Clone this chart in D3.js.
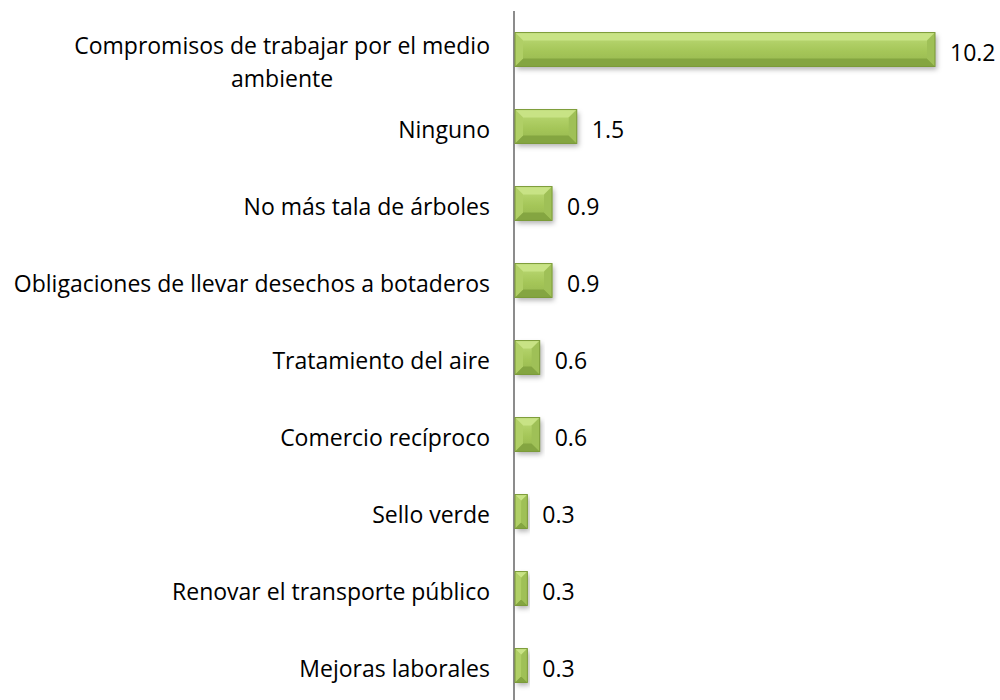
<!DOCTYPE html>
<html lang="es">
<head>
<meta charset="UTF-8"/>
<title>Compromisos</title>
<style>
  body { margin: 0; background: #fff; }
  text { font-family: "Open Sans", "Liberation Sans", sans-serif; fill: #000; }
</style>
</head>
<body>
<svg id="chart" width="1000" height="700"></svg>
<script src="https://d3js.org/d3.v7.min.js"></script>
<script>
// data
var categories = [
    "Compromisos de trabajar por el medio ambiente",
    "Ninguno",
    "No más tala de árboles",
    "Obligaciones de llevar desechos a botaderos",
    "Tratamiento del aire",
    "Comercio recíproco",
    "Sello verde",
    "Renovar el transporte público",
    "Mejoras laborales"
];
var values = [10.2, 1.5, 0.9, 0.9, 0.6, 0.6, 0.3, 0.3, 0.3];

var svg = d3.select("#chart"),
    width = +svg.attr("width"),
    height = +svg.attr("height");

var x0 = 515, yTop = 11, yBottom = 704;
var fontSize = "23px";

var x = d3.scaleLinear()
    .domain([0, 10.2])
    .range([x0, 935]);

var y = d3.scaleBand()
    .domain(categories)
    .range([yTop, yBottom])
    .paddingInner(0.56)
    .paddingOuter(0.28);

var defs = svg.append("defs");

var grad = defs.append("linearGradient")
    .attr("id", "face")
    .attr("x1", 0).attr("y1", 0).attr("x2", 0).attr("y2", 1);
grad.append("stop").attr("offset", "0%").attr("stop-color", "#bedb78");
grad.append("stop").attr("offset", "50%").attr("stop-color", "#a7c85b");
grad.append("stop").attr("offset", "100%").attr("stop-color", "#95b64c");

var shadow = defs.append("filter")
    .attr("id", "shadow")
    .attr("x", "-20%").attr("y", "-30%").attr("width", "140%").attr("height", "180%");
shadow.append("feDropShadow")
    .attr("dx", 2).attr("dy", 3)
    .attr("stdDeviation", 2.5)
    .attr("flood-color", "#000")
    .attr("flood-opacity", 0.3);

// axis line
svg.append("line")
    .attr("x1", x0 - 1).attr("x2", x0 - 1)
    .attr("y1", yTop).attr("y2", yBottom)
    .attr("stroke", "#8c8c8c")
    .attr("stroke-width", 2);

var bars = svg.append("g")
    .selectAll("g")
    .data(values)
    .enter().append("g")
    .attr("transform", function (d, i) {
        return "translate(" + x0 + "," + y(categories[i]) + ")";
    });

bars.each(function (d) {
    var g = d3.select(this);
    var w = x(d) - x0, h = y.bandwidth();
    var b = Math.min(8, w / 2, h / 4);

    g.append("rect")
        .attr("width", w).attr("height", h)
        .attr("fill", "url(#face)")
        .attr("filter", "url(#shadow)");

    // bevel pieces
    g.append("polygon")
        .attr("points", [[0, 0], [w, 0], [w - b, b], [b, b]].join(" "))
        .attr("fill", "#c8e385");
    g.append("polygon")
        .attr("points", [[0, h], [w, h], [w - b, h - b], [b, h - b]].join(" "))
        .attr("fill", "#84a541");
    g.append("polygon")
        .attr("points", [[0, 0], [b, b], [b, h - b], [0, h]].join(" "))
        .attr("fill", "#b0cf66");
    g.append("polygon")
        .attr("points", [[w, 0], [w - b, b], [w - b, h - b], [w, h]].join(" "))
        .attr("fill", "#9fc057");

    g.append("rect")
        .attr("width", w).attr("height", h)
        .attr("fill", "none")
        .attr("stroke", "#7a9a37")
        .attr("stroke-width", 1);
});

// value labels
svg.append("g")
    .selectAll("text")
    .data(values)
    .enter().append("text")
    .attr("x", function (d) { return x(d) + 15; })
    .attr("y", function (d, i) { return y(categories[i]) + y.bandwidth() / 2 + 3; })
    .attr("dy", "0.35em")
    .style("font-size", fontSize)
    .text(function (d) { return d.toFixed(1); });

// category labels, wrapped
var labels = svg.append("g")
    .selectAll("text")
    .data(categories)
    .enter().append("text")
    .attr("x", 490)
    .attr("text-anchor", "end")
    .style("font-size", fontSize)
    .each(function (c) {
        var t = d3.select(this);
        var words = c.split(" "), lines = [], line = [];
        var probe = t.append("tspan");
        words.forEach(function (w) {
            line.push(w);
            probe.text(line.join(" "));
            if (probe.node().getComputedTextLength() > 495 && line.length > 1) {
                line.pop();
                lines.push(line.join(" "));
                line = [w];
            }
        });
        lines.push(line.join(" "));
        probe.remove();

        var lh = 33;
        var yc = y(c) + y.bandwidth() / 2 + 3;
        var y0 = yc - (lines.length - 1) * lh / 2 + (lines.length > 1 ? 10 : 0);
        if (lines.length > 1) {
            // multi-line block: lines centred on each other, block right-aligned
            var widths = lines.map(function (l) {
                var p = t.append("tspan").text(l);
                var wd = p.node().getComputedTextLength();
                p.remove();
                return wd;
            });
            var maxW = d3.max(widths);
            lines.forEach(function (l, k) {
                t.append("tspan")
                    .attr("x", 490 - maxW / 2)
                    .attr("text-anchor", "middle")
                    .attr("y", y0 + k * lh)
                    .attr("dy", "0.35em")
                    .text(l);
            });
        } else {
            t.append("tspan")
                .attr("x", 490)
                .attr("y", y0)
                .attr("dy", "0.35em")
                .text(lines[0]);
        }
    });
</script>
</body>
</html>
